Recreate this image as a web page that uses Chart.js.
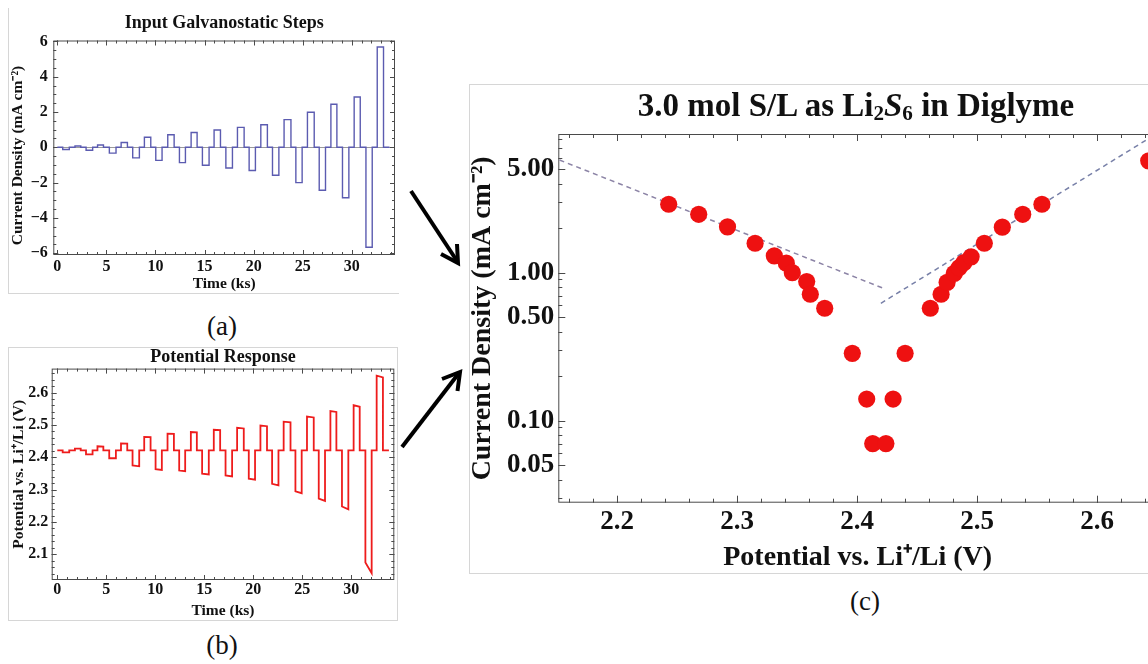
<!DOCTYPE html>
<html>
<head>
<meta charset="utf-8">
<script src="https://cdn.jsdelivr.net/npm/chart.js@4.4.1/dist/chart.umd.min.js"></script>
<style>
  html, body { margin: 0; padding: 0; width: 1148px; height: 664px; overflow: hidden; background: #fff; }
  .panel { position: absolute; box-sizing: border-box; border: 0 solid #d6d6d6; }
  canvas { position: absolute; }
  .lbl { position: absolute; width: 60px; text-align: center; font: 27px/30px 'Liberation Serif', serif; color: #111; }
  #ctitle { position: absolute; left: 506px; top: 86px; width: 700px; text-align: center;
            font: bold 33px/38px 'Liberation Serif', serif; color: #111; white-space: nowrap; }
  #ctitle sub { font-size: 0.64em; vertical-align: -0.2em; line-height: 0; }
  svg { position: absolute; left: 0; top: 0; }
</style>
</head>
<body>
<div class="panel" style="left:8px;top:8px;width:391px;height:286px;border-left-width:1px;border-bottom-width:1px"></div>
<div class="panel" style="left:8px;top:347px;width:390px;height:274px;border-width:1px"></div>
<div class="panel" style="left:469px;top:84px;width:700px;height:490px;border-width:1px 0 1px 1px"></div>

<canvas id="chartA" width="390" height="285" style="left:8px;top:8px"></canvas>
<canvas id="chartB" width="389" height="273" style="left:8px;top:347px"></canvas>
<canvas id="chartC" width="688" height="489" style="left:469px;top:84px"></canvas>

<div id="ctitle">3.0 mol S/L as Li<sub>2</sub><i>S</i><sub>6</sub> in Diglyme</div>
<div class="lbl" style="left:192px;top:311px">(a)</div>
<div class="lbl" style="left:192px;top:630px">(b)</div>
<div class="lbl" style="left:835px;top:586px">(c)</div>

<svg width="1148" height="664">
  <g stroke="#000" stroke-width="4" fill="none" stroke-linejoin="miter">
    <line x1="411" y1="191" x2="457" y2="261"/>
    <polyline points="457,244 458,263 441,254"/>
    <line x1="402" y1="447" x2="459" y2="373"/>
    <polyline points="442,379 460,372 457.5,391"/>
  </g>
</svg>

<script>
// galvanostatic pulse train, times in ks
const pulseOn = [0.55, 1.80, 2.93, 4.10, 5.30, 6.50, 7.68, 8.87, 10.03, 11.25, 12.44, 13.63, 14.78, 15.97,
                 17.17, 18.35, 19.54, 20.73, 21.92, 23.10, 24.30, 25.48, 26.68, 27.87, 29.05, 30.24, 31.44, 32.59];
const pulseOff = [1.22, 2.39, 3.60, 4.70, 5.98, 7.14, 8.36, 9.52, 10.67, 11.90, 13.05, 14.24, 15.46, 16.62,
                  17.84, 19.03, 20.18, 21.40, 22.57, 23.80, 24.94, 26.17, 27.32, 28.48, 29.70, 30.86, 32.08, 33.23];
const traceStart = 0;
const traceEnd = 33.84;

// current density of each pulse (mA cm^-2)
const pulseCurrent = [-0.12, 0.07, -0.17, 0.13, -0.33, 0.27, -0.6, 0.57, -0.74, 0.71, -0.87, 0.84, -1.02, 0.98,
                      -1.17, 1.13, -1.31, 1.28, -1.58, 1.57, -2.0, 1.99, -2.43, 2.44, -2.86, 2.85, -5.66, 5.68];

// potential response (V vs Li+/Li) at start and end of each pulse
const restPotential = 2.421;
const potStart = [2.415, 2.427, 2.409, 2.434, 2.397, 2.443, 2.375, 2.463, 2.363, 2.473, 2.359, 2.478, 2.349, 2.485,
                  2.344, 2.491, 2.334, 2.498, 2.318, 2.510, 2.295, 2.526, 2.272, 2.543, 2.248, 2.561, 2.075, 2.652];
const potEnd = [2.415, 2.427, 2.409, 2.433, 2.397, 2.442, 2.372, 2.462, 2.361, 2.472, 2.357, 2.477, 2.347, 2.484,
                2.341, 2.489, 2.331, 2.496, 2.313, 2.508, 2.289, 2.523, 2.265, 2.540, 2.239, 2.556, 2.042, 2.647];

// steady-state points for panel (c)
const tafelPotential = [2.243, 2.268, 2.292, 2.315, 2.331, 2.341, 2.346, 2.358, 2.361, 2.373, 2.396, 2.408, 2.413, 2.424,
                        2.430, 2.440, 2.461, 2.470, 2.475, 2.481, 2.485, 2.489, 2.495, 2.506, 2.521, 2.538, 2.554, 2.643];
const tafelCurrent = [2.90, 2.48, 2.04, 1.58, 1.30, 1.16, 1.00, 0.87, 0.715, 0.575, 0.285, 0.140, 0.070, 0.070,
                      0.140, 0.285, 0.575, 0.715, 0.86, 0.99, 1.08, 1.17, 1.28, 1.58, 2.03, 2.48, 2.90, 5.70];
// dashed Tafel fits (end points)
const fitCathV = [2.152, 2.4217];
const fitCathI = [5.77, 0.785];
const fitAnodV = [2.4198, 2.66];
const fitAnodI = [0.621, 9.8];

// tick labels
const timeTicks = [0, 5, 10, 15, 20, 25, 30];
const currentTicks = [-6, -4, -2, 0, 2, 4, 6];
const potentialTicks = [2.1, 2.2, 2.3, 2.4, 2.5, 2.6];
const cPotTicks = [2.2, 2.3, 2.4, 2.5, 2.6];
const cCurTicks = [0.05, 0.1, 0.5, 1, 5];
const cCurMinor = [0.03, 0.04, 0.06, 0.07, 0.08, 0.09, 0.2, 0.3, 0.4, 0.6, 0.7, 0.8, 0.9, 2, 3, 4, 6, 7, 8];

Chart.defaults.font.family = "'Liberation Serif', 'Times New Roman', serif";
Chart.defaults.color = "#111";

function range(a, b, step) {
  const out = [];
  for (let v = a; v <= b + 1e-9; v += step) out.push(+v.toFixed(4));
  return out;
}

function pulseTrace(startVals, endVals, rest) {
  const pts = [{ x: traceStart, y: rest }];
  pulseOn.forEach((t, i) => {
    pts.push({ x: t, y: rest }, { x: t, y: startVals[i] }, { x: pulseOff[i], y: endVals[i] }, { x: pulseOff[i], y: rest });
  });
  pts.push({ x: traceEnd, y: rest });
  return pts;
}

// Mathematica style frame with inward ticks on all four sides
const frameTicks = {
  id: "frameTicks",
  beforeDatasetsDraw(chart, args, opts) {
    const { ctx, chartArea: a } = chart;
    const x = chart.scales.x, y = chart.scales.y;
    ctx.save();
    ctx.strokeStyle = "#4a4a4a";
    ctx.lineWidth = 1;
    ctx.strokeRect(a.left + 0.5, a.top + 0.5, a.right - a.left - 1, a.bottom - a.top - 1);
    ctx.beginPath();
    const xt = (vals, len) => vals.forEach((v) => {
      const p = Math.round(x.getPixelForValue(v)) + 0.5;
      if (p < a.left || p > a.right) return;
      ctx.moveTo(p, a.bottom); ctx.lineTo(p, a.bottom - len);
      ctx.moveTo(p, a.top); ctx.lineTo(p, a.top + len);
    });
    const yt = (vals, len) => vals.forEach((v) => {
      const p = Math.round(y.getPixelForValue(v)) + 0.5;
      if (p < a.top || p > a.bottom) return;
      ctx.moveTo(a.left, p); ctx.lineTo(a.left + len, p);
      ctx.moveTo(a.right, p); ctx.lineTo(a.right - len, p);
    });
    xt(opts.xMajor, opts.major); xt(opts.xMinor, opts.minor);
    yt(opts.yMajor, opts.major); yt(opts.yMinor, opts.minor);
    ctx.stroke();
    ctx.restore();
  },
};

const fixTicks = (list) => (scale) => { scale.ticks = list.map((v) => ({ value: v })); };
const noGrid = { display: false, drawTicks: false };
// fixed axis sizes, no extra label overflow padding
const fitX = (h) => (s) => { s.height = h; s.paddingLeft = 0; s.paddingRight = 0; };
const fitY = (w) => (s) => { s.width = w; s.paddingTop = 0; s.paddingBottom = 0; };

// (a) input galvanostatic steps
new Chart(document.getElementById("chartA"), {
  type: "line",
  data: {
    datasets: [{
      data: pulseTrace(pulseCurrent, pulseCurrent, 0),
      borderColor: "#5b5bb0",
      borderWidth: 1.4,
      pointRadius: 0,
      tension: 0,
    }],
  },
  options: {
    responsive: false,
    animation: false,
    layout: { autoPadding: false, padding: { top: 0, right: 3, left: 0, bottom: 0 } },
    scales: {
      x: {
        type: "linear", min: -0.41, max: 34.4,
        afterBuildTicks: fixTicks(timeTicks),
        afterFit: fitX(38),
        grid: noGrid, border: { display: false },
        ticks: { font: { size: 16, weight: "bold" }, padding: 2 },
        title: { display: true, text: "Time (ks)", font: { size: 15.5, weight: "bold" }, padding: { top: 0, bottom: 0 } },
      },
      y: {
        min: -6.1, max: 6.05,
        afterBuildTicks: fixTicks(currentTicks),
        afterFit: fitY(45.3),
        grid: { drawTicks: false, color: (c) => (c.tick && c.tick.value === 0 ? "#9a9a9a" : "rgba(0,0,0,0)") },
        border: { display: false },
        ticks: { font: { size: 16, weight: "bold" }, padding: 5.5,
                 callback: (v) => (v < 0 ? "\u2212" + Math.abs(v) : String(v)) },
        title: { display: true, text: "Current Density (mA cm\u207B\u00B2)    ", font: { size: 15.5, weight: "bold" }, padding: { top: 1 } },
      },
    },
    plugins: {
      legend: { display: false },
      tooltip: { enabled: false },
      title: { display: true, fullSize: false, text: "Input Galvanostatic Steps", font: { size: 18, weight: "bold" }, padding: { top: 4.2, bottom: 6.7 } },
      frameTicks: { xMajor: timeTicks, xMinor: range(0, 34, 1), yMajor: currentTicks, yMinor: range(-6, 6, 0.5), major: 5, minor: 3 },
    },
  },
  plugins: [frameTicks],
});

// (b) potential response
new Chart(document.getElementById("chartB"), {
  type: "line",
  data: {
    datasets: [{
      data: pulseTrace(potStart, potEnd, restPotential),
      borderColor: "#ee1c1c",
      borderWidth: 1.8,
      pointRadius: 0,
      tension: 0,
    }],
  },
  options: {
    responsive: false,
    animation: false,
    layout: { autoPadding: false, padding: { top: 0, right: 2.7, left: 0, bottom: 0 } },
    scales: {
      x: {
        type: "linear", min: -0.57, max: 34.39,
        afterBuildTicks: fixTicks(timeTicks),
        afterFit: fitX(40),
        grid: noGrid, border: { display: false },
        ticks: { font: { size: 16, weight: "bold" }, padding: 0 },
        title: { display: true, text: "Time (ks)", font: { size: 15.5, weight: "bold" }, padding: { top: 0, bottom: 0 } },
      },
      y: {
        min: 2.0207, max: 2.674,
        afterBuildTicks: fixTicks(potentialTicks),
        afterFit: fitY(43.7),
        grid: noGrid, border: { display: false },
        ticks: { font: { size: 16, weight: "bold" }, padding: 3.4, callback: (v) => v.toFixed(1) },
        title: { display: true, text: "Potential vs. Li\u207A/Li (V)", font: { size: 15.5, weight: "bold" }, padding: { top: 1.7 } },
      },
    },
    plugins: {
      legend: { display: false },
      tooltip: { enabled: false },
      title: { display: true, fullSize: false, text: "Potential Response", font: { size: 18, weight: "bold" }, padding: { top: 0, bottom: 0 } },
      frameTicks: { xMajor: timeTicks, xMinor: range(0, 34, 1), yMajor: potentialTicks, yMinor: range(2.04, 2.66, 0.02), major: 5, minor: 3 },
    },
  },
  plugins: [frameTicks],
});

// (c) current density vs potential, log scale
new Chart(document.getElementById("chartC"), {
  type: "scatter",
  data: {
    datasets: [
      {
        data: tafelPotential.map((v, i) => ({ x: v, y: tafelCurrent[i] })),
        backgroundColor: "#ee1111",
        borderWidth: 0,
        pointRadius: 8.6,
        pointHoverRadius: 8.6,
        clip: false,
      },
      {
        data: fitCathV.map((v, i) => ({ x: v, y: fitCathI[i] })),
        showLine: true, pointRadius: 0, borderColor: "#8c84a6", borderWidth: 1.5, borderDash: [5, 4],
      },
      {
        data: fitAnodV.map((v, i) => ({ x: v, y: fitAnodI[i] })),
        showLine: true, pointRadius: 0, borderColor: "#7880a8", borderWidth: 1.5, borderDash: [5, 4],
      },
    ],
  },
  options: {
    responsive: false,
    animation: false,
    layout: { autoPadding: false, padding: { top: 50, right: 0, left: 0, bottom: 0 } },
    scales: {
      x: {
        type: "linear", min: 2.151, max: 2.6499,
        afterBuildTicks: fixTicks(cPotTicks),
        afterFit: fitX(70.3),
        grid: noGrid, border: { display: false },
        ticks: { font: { size: 27, weight: "bold" }, padding: 3.6, callback: (v) => v.toFixed(1) },
        title: { display: true, text: "Potential vs. Li\u207A/Li (V)", font: { size: 28, weight: "bold", lineHeight: 1 }, padding: { top: 0, bottom: 1 } },
      },
      y: {
        type: "logarithmic", min: 0.0279, max: 8.65,
        afterBuildTicks: fixTicks(cCurTicks),
        afterFit: fitY(89.3),
        grid: noGrid, border: { display: false },
        ticks: { font: { size: 27, weight: "bold" }, padding: 4, callback: (v) => Number(v).toFixed(2) },
        title: { display: true, text: "Current Density (mA cm\u207B\u00B2)", font: { size: 28, weight: "bold", lineHeight: 1 }, padding: { top: 0 } },
      },
    },
    plugins: {
      legend: { display: false },
      tooltip: { enabled: false },
      frameTicks: { xMajor: cPotTicks, xMinor: range(2.16, 2.64, 0.02), yMajor: cCurTicks, yMinor: cCurMinor, major: 7, minor: 4 },
    },
  },
  plugins: [frameTicks],
});
</script>
</body>
</html>
